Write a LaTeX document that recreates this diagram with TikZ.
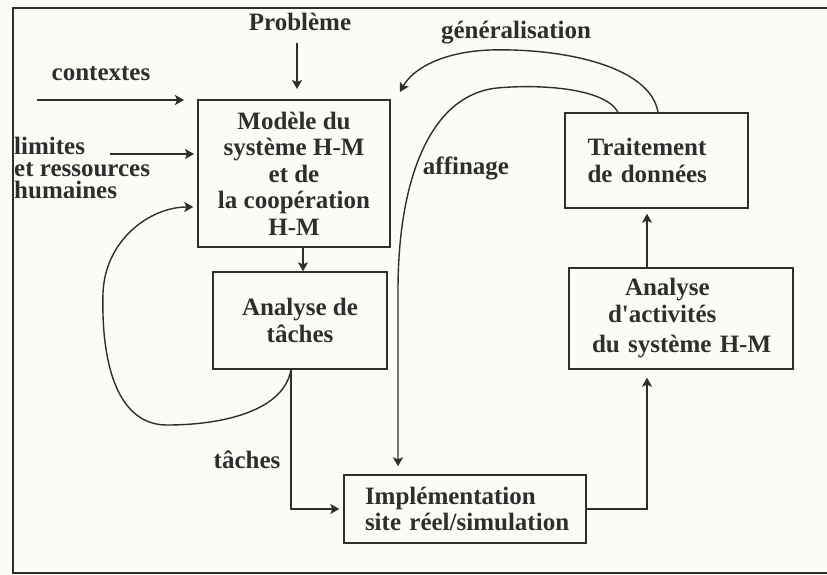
\documentclass[tikz,border=0pt]{standalone}
\usepackage{fontspec}
\setmainfont{Liberation Serif}
\usetikzlibrary{arrows.meta,calc}
\definecolor{ink}{HTML}{2E2E2E}
\definecolor{paper}{HTML}{FCFCF7}
\tikzset{
  box/.style={draw=ink, line width=1.4pt, rectangle, inner sep=0pt, text=ink,
    font=\bfseries\fontsize{25}{26.5}\selectfont},
  lbl/.style={text=ink, inner sep=0pt, font=\bfseries\fontsize{25}{26.5}\selectfont},
  conn/.style={draw=ink, line width=1.4pt},
  arr/.style={conn, -{Stealth[length=9pt,width=10pt,inset=2pt]}}
}
\begin{document}
\begin{tikzpicture}[x=1pt,y=-1pt]
\useasboundingbox (0,0) rectangle (827,575);
\fill[paper] (0,0) rectangle (827,575);
\draw[ink, line width=1.8pt] (827,8) -- (13,8) -- (13,573) -- (827,573);

% boxes
\node[box, minimum width=192pt, minimum height=147pt, align=center] (modele) at (294,173.5)
  {Modèle du\\système H-M\\et de\\la coopération\\H-M};
\node[box, minimum width=174pt, minimum height=97pt, align=center] (tache) at (300,320.5)
  {Analyse de\\tâches};
\node[box, minimum width=242pt, minimum height=68pt, align=left, text width=200pt] (impl) at (465,509)
  {\mbox{Implémentation}\\\mbox{site réel/simulation}};
\node[box, minimum width=224pt, minimum height=101pt, align=left, text width=178pt] (activ) at (681,318.5)
  {\mbox{\hspace*{33pt}Analyse}\\\mbox{\hspace*{16pt}d\textquotesingle activités}\\[4pt]\mbox{du système H-M}};
\node[box, minimum width=183pt, minimum height=95pt, align=left, text width=138pt] (trait) at (656.5,160.5)
  {\mbox{Traitement}\\\mbox{de données}};

% labels
\node[lbl] (prob) at (300,22) {Problème};
\node[lbl] (ctx) at (101,74) {contextes};
\node[lbl, align=left, anchor=west, font=\bfseries\fontsize{25}{22}\selectfont] (lim) at (14,168)
  {limites\\et ressources\\humaines};
\node[lbl] (tlab) at (247,460) {tâches};
\node[lbl] (aff) at (466,168) {affinage};
\node[lbl] (gen) at (516,33) {généralisation};

% free ends
\coordinate (c1) at (37,100);
\coordinate (c2) at (184,100);
\coordinate (l1) at (110,154);
\coordinate (l2) at (194,154);
\coordinate (p1) at (297,43);
\coordinate (p2) at (297,89);

% connectors
\draw[arr] (p1) -- (p2);
\draw[arr] (c1) -- (c2);
\draw[arr] (l1) -- (l2);
\draw[arr] ([xshift=9pt]modele.south) -- ([xshift=3pt]tache.north);
\draw[arr, shorten >=4pt] ([xshift=-9pt]tache.south)
  .. controls (284,410) and (225,425) .. (167,425)
  .. controls (118,425) and (101,365) .. (103,293)
  .. controls (105,240) and (150,207) .. ([yshift=-33.5pt]modele.west);
\draw[arr, shorten >=4pt] ([xshift=-9pt]tache.south) |- (impl.west);
\draw[arr, shorten >=8pt] (impl.east) -| ([xshift=-34pt]activ.south);
\draw[arr, shorten >=5pt] ([xshift=-34pt]activ.north) -- ([xshift=-9.5pt]trait.south);
\draw[arr, shorten >=8pt] ([xshift=-38.5pt]trait.north)
  .. controls (605,88) and (540,84) .. (497,88)
  .. controls (430,95) and (398,180) .. (398,290)
  -- ([xshift=-67pt]impl.north);
\draw[arr] ([xshift=1.5pt]trait.north)
  .. controls (650,65) and (560,48) .. (490,50)
  .. controls (440,52) and (412,70) .. (400,92);
\end{tikzpicture}
\end{document}
